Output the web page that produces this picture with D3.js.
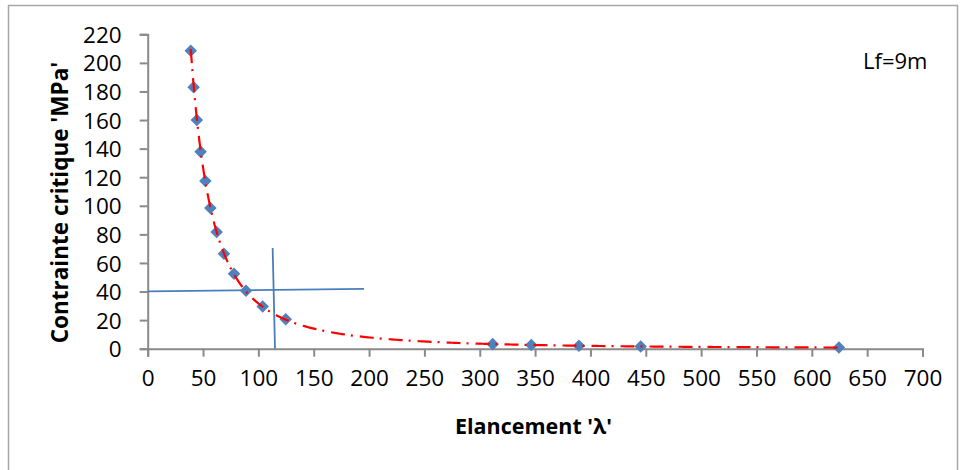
<!DOCTYPE html>
<html><head><meta charset="utf-8">
<script src="https://cdn.jsdelivr.net/npm/d3@7"></script>
<style>body{margin:0;background:#fff}svg{display:block}</style>
</head><body>
<svg id="c" width="966" height="470"></svg>
<script>
// ---- data ----
const lambdaVals = [38.9, 41.5, 44.4, 47.8, 52.1, 56.6, 62.3, 68.9, 78.0, 88.8, 103.9, 124.7, 311.7, 346.6, 389.6, 445.4, 624.5];
const sigmaVals  = [208.5, 182.9, 160.1, 137.9, 117.4, 98.4, 81.6, 66.4, 52.4, 40.5, 29.6, 20.6, 3.2, 2.6, 2.1, 1.6, 0.8];
const xTicks = [0, 50, 100, 150, 200, 250, 300, 350, 400, 450, 500, 550, 600, 650, 700];
const yTicks = [0, 20, 40, 60, 80, 100, 120, 140, 160, 180, 200, 220];
const hLine = [[0, 40.1], [195.4, 41.9]];
const vLine = [[112.9, 70.4], [115.0, 0]];
const xTitle = "Elancement 'λ'";
const yTitle = "Contrainte critique 'MPa'";
const note = "Lf=9m";

const svg = d3.select("#c");
const x = d3.scaleLinear().domain([0, 700]).range([147.7, 922.5]);
const y = d3.scaleLinear().domain([0, 220]).range([348.7, 34.3]);
const font = "'Open Sans', sans-serif";
const axisCol = "#8a8a8a";

// border
svg.append("rect").attr("x", 8.5).attr("y", 5.5).attr("width", 949).attr("height", 475)
  .attr("fill", "none").attr("stroke", "#a6a6a6").attr("stroke-width", 1.5);

// axes
const gx = svg.append("g").attr("transform", `translate(0,${y(0)})`)
  .call(d3.axisBottom(x).tickValues(xTicks).tickSize(8).tickPadding(13).tickFormat(d3.format("d")));
const gy = svg.append("g").attr("transform", `translate(${x(0)},0)`)
  .call(d3.axisLeft(y).tickValues(yTicks).tickSize(8).tickPadding(18).tickFormat(d3.format("d")));
[gx, gy].forEach(g => {
  g.select(".domain").attr("stroke", axisCol).attr("stroke-width", 2);
  g.selectAll(".tick line").attr("stroke", axisCol).attr("stroke-width", 2);
  g.selectAll(".tick text").attr("fill", "#000").attr("font-family", font).attr("font-size", 22.5);
});
gx.selectAll(".tick text").attr("dy", "0.71em");
gy.selectAll(".tick text").attr("dy", "0.36em");

// blue reference lines
const ln = d3.line().x(d => x(d[0])).y(d => y(d[1]));
[hLine, vLine].forEach(l => svg.append("path").attr("d", ln(l)).attr("fill", "none")
  .attr("stroke", "#4a7ebb").attr("stroke-width", 1.8));

// power trendline fitted (least squares in log-log) from the data
const n = lambdaVals.length;
const lx = lambdaVals.map(Math.log), ly = sigmaVals.map(Math.log);
const mx = d3.mean(lx), my = d3.mean(ly);
const b = d3.sum(lx.map((v, i) => (v - mx) * (ly[i] - my))) / d3.sum(lx.map(v => (v - mx) ** 2));
const a = Math.exp(my - b * mx);
const xs = d3.range(0, 301).map(i => lambdaVals[0] + (lambdaVals[n - 1] - lambdaVals[0]) * i / 300);
const trend = xs.map(v => [v, Math.min(a * Math.pow(v, b), 220)]);

// markers
svg.append("g").selectAll("path").data(lambdaVals).join("path")
  .attr("d", d3.symbol().type(d3.symbolDiamond2).size(100))
  .attr("transform", (d, i) => `translate(${x(d)},${y(sigmaVals[i])})`)
  .attr("fill", "#4f81bd");
// trendline on top of markers
svg.append("path").attr("d", ln(trend))
  .attr("fill", "none").attr("stroke", "#ff0000").attr("stroke-width", 2.2)
  .attr("stroke-dasharray", "14,6,2,7");

// titles
svg.append("text").attr("x", 533.5).attr("y", 434).attr("text-anchor", "middle")
  .attr("font-family", font).attr("font-weight", "bold").attr("font-size", 21.5).text(xTitle);
svg.append("text").attr("transform", "translate(68,202.5) rotate(-90)").attr("text-anchor", "middle")
  .attr("font-family", font).attr("font-weight", "bold").attr("font-size", 22.5).text(yTitle);
svg.append("text").attr("x", 863).attr("y", 69).attr("font-family", font).attr("font-size", 22).text(note);
</script>
</body></html>
